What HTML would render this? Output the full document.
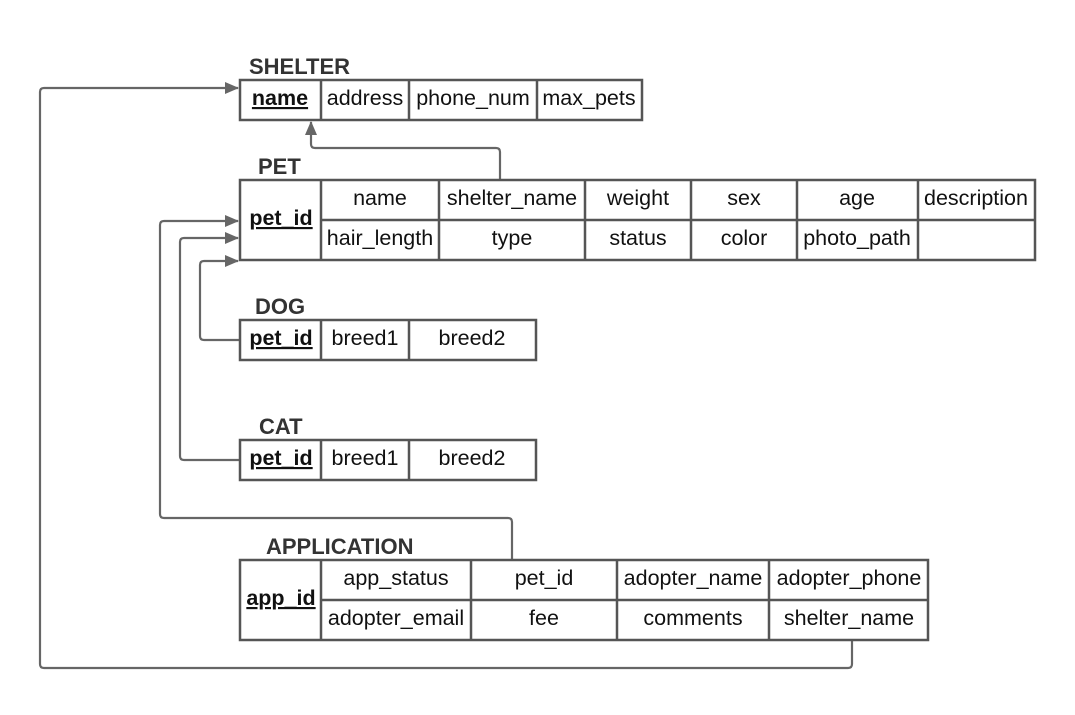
<!DOCTYPE html>
<html><head><style>
body{margin:0;background:#fff}
svg text{font-family:"Liberation Sans",Arial,sans-serif;font-size:21.5px;fill:#111}
.h{font-weight:bold;fill:#333;font-size:22px}
.k{font-weight:bold;text-decoration:underline}
</style></head><body>
<svg width="1075" height="710" viewBox="0 0 1075 710" xmlns="http://www.w3.org/2000/svg">
<defs>
<marker id="b" markerWidth="14" markerHeight="12" refX="13" refY="6" orient="auto" markerUnits="userSpaceOnUse"><path d="M0,0 L14,6 L0,12z" fill="#666"/></marker></defs>
<g fill="none" stroke="#666" stroke-width="2.2">
<path d="M500,180 V152 Q500,148 496,148 H315 Q311,148 311,144 V122" marker-end="url(#b)"/>
<path d="M512,560 V522 Q512,518 508,518 H164 Q160,518 160,514 V225 Q160,221 164,221 H238" marker-end="url(#b)"/>
<path d="M240,460 H184 Q180,460 180,456 V242 Q180,238 184,238 H238" marker-end="url(#b)"/>
<path d="M240,340 H204 Q200,340 200,336 V265 Q200,261 204,261 H238" marker-end="url(#b)"/>
<path d="M852,640 V664 Q852,668 848,668 H44 Q40,668 40,664 V92 Q40,88 44,88 H238" marker-end="url(#b)"/>
</g>
<g fill="none" stroke="#555" stroke-width="2.5">
<rect x="240" y="80" width="402" height="40"/><path d="M321,80V120M409,80V120M537,80V120"/>
<rect x="240" y="180" width="795" height="80"/><path d="M321,220H1035M321,180V260M439,180V260M585,180V260M691,180V260M797,180V260M918,180V260"/>
<rect x="240" y="320" width="296" height="40"/><path d="M321,320V360M409,320V360"/>
<rect x="240" y="440" width="296" height="40"/><path d="M321,440V480M409,440V480"/>
<rect x="240" y="560" width="688" height="80"/><path d="M321,600H928M321,560V640M471,560V640M617,560V640M769,560V640"/>
</g>
<text class="h" x="249" y="74">SHELTER</text>
<text class="h" x="258" y="174">PET</text>
<text class="h" x="255" y="314">DOG</text>
<text class="h" x="259" y="434">CAT</text>
<text class="h" x="266" y="554">APPLICATION</text>
<g text-anchor="middle">
<text class="k" x="280" y="105">name</text><text x="365" y="105">address</text><text x="473" y="105">phone_num</text><text x="589" y="105">max_pets</text>
<text class="k" x="281" y="225">pet_id</text>
<text x="380" y="205">name</text><text x="512" y="205">shelter_name</text><text x="638" y="205">weight</text><text x="744" y="205">sex</text><text x="857" y="205">age</text><text x="976" y="205">description</text>
<text x="380" y="245">hair_length</text><text x="512" y="245">type</text><text x="638" y="245">status</text><text x="744" y="245">color</text><text x="857" y="245">photo_path</text>
<text class="k" x="281" y="345">pet_id</text><text x="365" y="345">breed1</text><text x="472" y="345">breed2</text>
<text class="k" x="281" y="465">pet_id</text><text x="365" y="465">breed1</text><text x="472" y="465">breed2</text>
<text class="k" x="281" y="605">app_id</text>
<text x="396" y="585">app_status</text><text x="544" y="585">pet_id</text><text x="693" y="585">adopter_name</text><text x="849" y="585">adopter_phone</text>
<text x="396" y="625">adopter_email</text><text x="544" y="625">fee</text><text x="693" y="625">comments</text><text x="849" y="625">shelter_name</text>
</g>
</svg>
</body></html>
